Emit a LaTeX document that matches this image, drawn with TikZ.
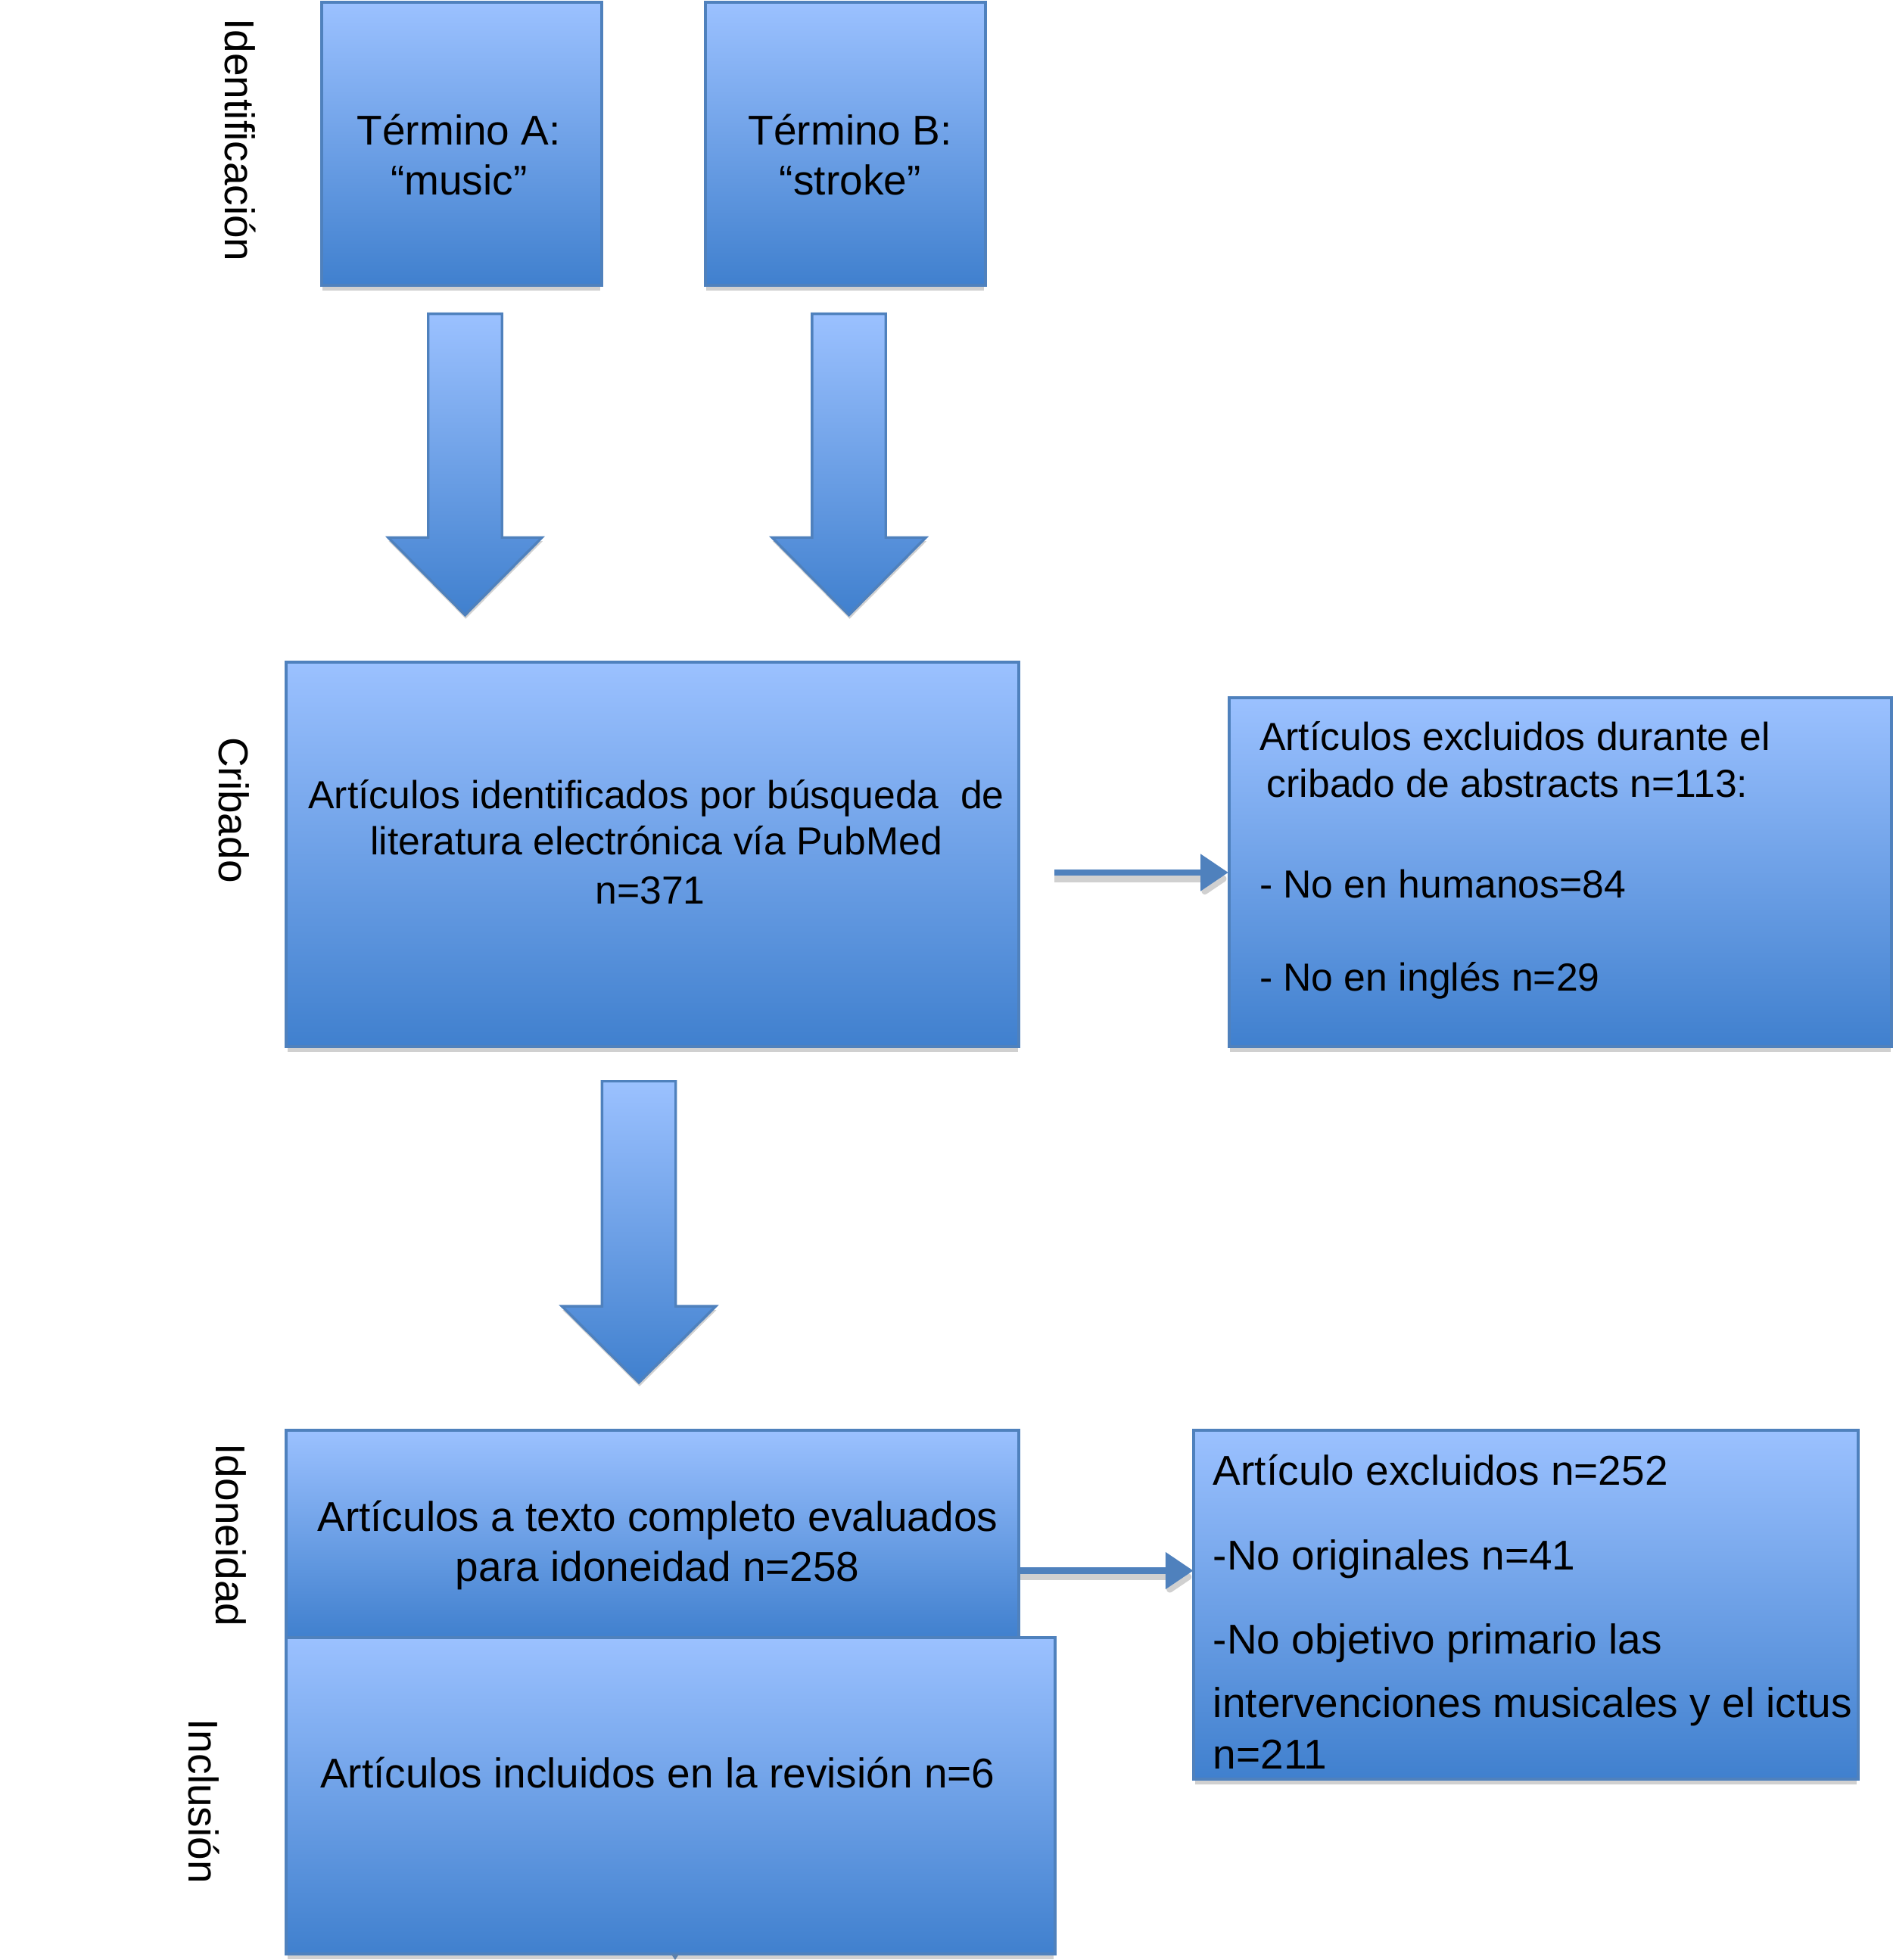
\documentclass[tikz,border=0pt]{standalone}
\usepackage{fontspec}
\setmainfont{Liberation Sans}
\usetikzlibrary{arrows.meta}
\definecolor{boxtop}{RGB}{155,193,255}
\definecolor{boxbot}{RGB}{64,128,206}
\definecolor{boxline}{RGB}{79,129,189}
\definecolor{shadowgrey}{RGB}{208,208,208}
\begin{document}
\begin{tikzpicture}[x=0.4954pt, y=-0.4954pt,
  panel/.style={top color=boxtop, bottom color=boxbot, draw=boxline, line width=1.2pt},
  panelnode/.style n args={2}{panel, anchor=north west, inner sep=0pt, outer sep=0pt,
     minimum width={#1*0.4954pt}, minimum height={#2*0.4954pt}},
  panelshadow/.style={fill=shadowgrey},
  blockarrow/.style={top color=boxtop, bottom color=boxbot, draw=boxline, line width=1pt, line join=miter},
  thinarrow/.style={draw=boxline, line width=2.6pt, -{Triangle[length=11pt,width=14pt]}},
  thinshadow/.style={draw=shadowgrey, line width=2.6pt, line join=round, -{Triangle[length=11pt,width=14pt,round]}},
  txt/.style={font=\fontsize{16.5}{19.8}\selectfont, inner sep=0pt, text=black},
  txts/.style={font=\fontsize{15.5}{18.6}\selectfont, inner sep=0pt, text=black},
  side/.style={txt, rotate=-90, anchor=center}]
\useasboundingbox (0,0) rectangle (1514,1568);
\fill[white] (0,0) rectangle (1514,1568);

% ---- box shadows ----
\fill[panelshadow] (258,228) rectangle (480,232.5);
\fill[panelshadow] (565,228) rectangle (787,232.5);
\fill[panelshadow] (230,837) rectangle (814,841.5);
\fill[panelshadow] (984,837) rectangle (1512,841.5);
\fill[panelshadow] (956,1423) rectangle (1485,1427.5);
\fill[panelshadow] (230,1563) rectangle (843,1567.5);

% ---- boxes ----
\node[panelnode={224}{226}] (boxA) at (257,2) {};
\node[panelnode={224}{226}] (boxB) at (564,2) {};
\node[panelnode={586}{307}] (crib) at (229,530) {};
\node[panelnode={530}{279}] (exc1) at (983,558) {};
\node[panelnode={586}{166}] (idon) at (229,1144) {};
\node[panelnode={615}{253}] (incl) at (229,1310) {};
\node[panelnode={531}{279}] (exc2) at (955,1144) {};

% ---- block arrows ----
\foreach \cx/\ya/\yb/\yt in {372/251/430/492, 679/251/430/492, 511/865/1045/1106}{
  \fill[shadowgrey] ([shift={(0.5,3)}]\cx-29.5,\ya) -- ([shift={(0.5,3)}]\cx+29.5,\ya) -- ([shift={(0.5,3)}]\cx+29.5,\yb)
     -- ([shift={(0.5,3)}]\cx+61.5,\yb) -- ([shift={(0.5,3)}]\cx,\yt) -- ([shift={(0.5,3)}]\cx-61.5,\yb)
     -- ([shift={(0.5,3)}]\cx-29.5,\yb) -- cycle;
  \path[blockarrow] (\cx-29.5,\ya) -- (\cx+29.5,\ya) -- (\cx+29.5,\yb) -- (\cx+61.5,\yb)
     -- (\cx,\yt) -- (\cx-61.5,\yb) -- (\cx-29.5,\yb) -- cycle;
}

% ---- thin connectors ----
\coordinate (c1s) at (843.5,698);
\coordinate (c1e) at (982.5,698);
\coordinate (c2s) at (816,1256.5);
\coordinate (c2e) at (954.5,1256.5);
\draw[thinshadow] ([shift={(0,5)}]c1s) -- ([shift={(-1.5,5)}]c1e);
\draw[thinarrow] (c1s) -- (c1e);
\draw[thinshadow] ([shift={(0,5)}]c2s) -- ([shift={(-1.5,5)}]c2e);
\draw[thinarrow] (c2s) -- (c2e);

% tiny tip visible under the last box
\fill[boxline!70!gray] (537,1563.5) -- (543,1563.5) -- (540,1568) -- cycle;

% ---- texts ----
\node[txt, anchor=base] (tA1) at (367,116) {Término A:};
\node[txt, anchor=base] (tA2) at (367,156) {“music”};
\node[txt, anchor=base] (tB1) at (680,116) {Término B:};
\node[txt, anchor=base] (tB2) at (680,156) {“stroke”};

\node[txts, anchor=base] (tc1) at (525,647) {Artículos identificados por búsqueda\ \ de};
\node[txts, anchor=base] (tc2) at (525,684) {literatura electrónica vía PubMed};
\node[txts, anchor=base] (tc3) at (520,723) {n=371};

\node[txts, anchor=base west] (te1) at (1007,600) {Artículos excluidos durante el};
\node[txts, anchor=base west] (te2) at (1013,638) {cribado de abstracts n=113:};
\node[txts, anchor=base west] (te3) at (1007,718) {- No en humanos=84};
\node[txts, anchor=base west] (te4) at (1007,793) {- No en inglés n=29};

\node[txt, anchor=base] (ti1) at (526,1225) {Artículos a texto completo evaluados};
\node[txt, anchor=base] (ti2) at (526,1265) {para idoneidad n=258};

\node[txt, anchor=base] (tn1) at (526,1430) {Artículos incluidos en la revisión n=6};

\node[txt, anchor=base west] (tx1) at (970,1188) {Artículo excluidos n=252};
\node[txt, anchor=base west] (tx2) at (970,1256) {-No originales n=41};
\node[txt, anchor=base west] (tx3) at (970,1323) {-No objetivo primario las};
\node[txt, anchor=base west] (tx4) at (970,1374) {intervenciones musicales y el ictus};
\node[txt, anchor=base west] (tx5) at (970,1415) {n=211};

% ---- side labels ----
\node[side] (sId) at (192,112) {Identificación};
\node[side] (sCr) at (187,648) {Cribado};
\node[side] (sIdo) at (185,1228) {Idoneidad};
\node[side] (sIn) at (163,1441) {Inclusión};
\end{tikzpicture}
\end{document}
